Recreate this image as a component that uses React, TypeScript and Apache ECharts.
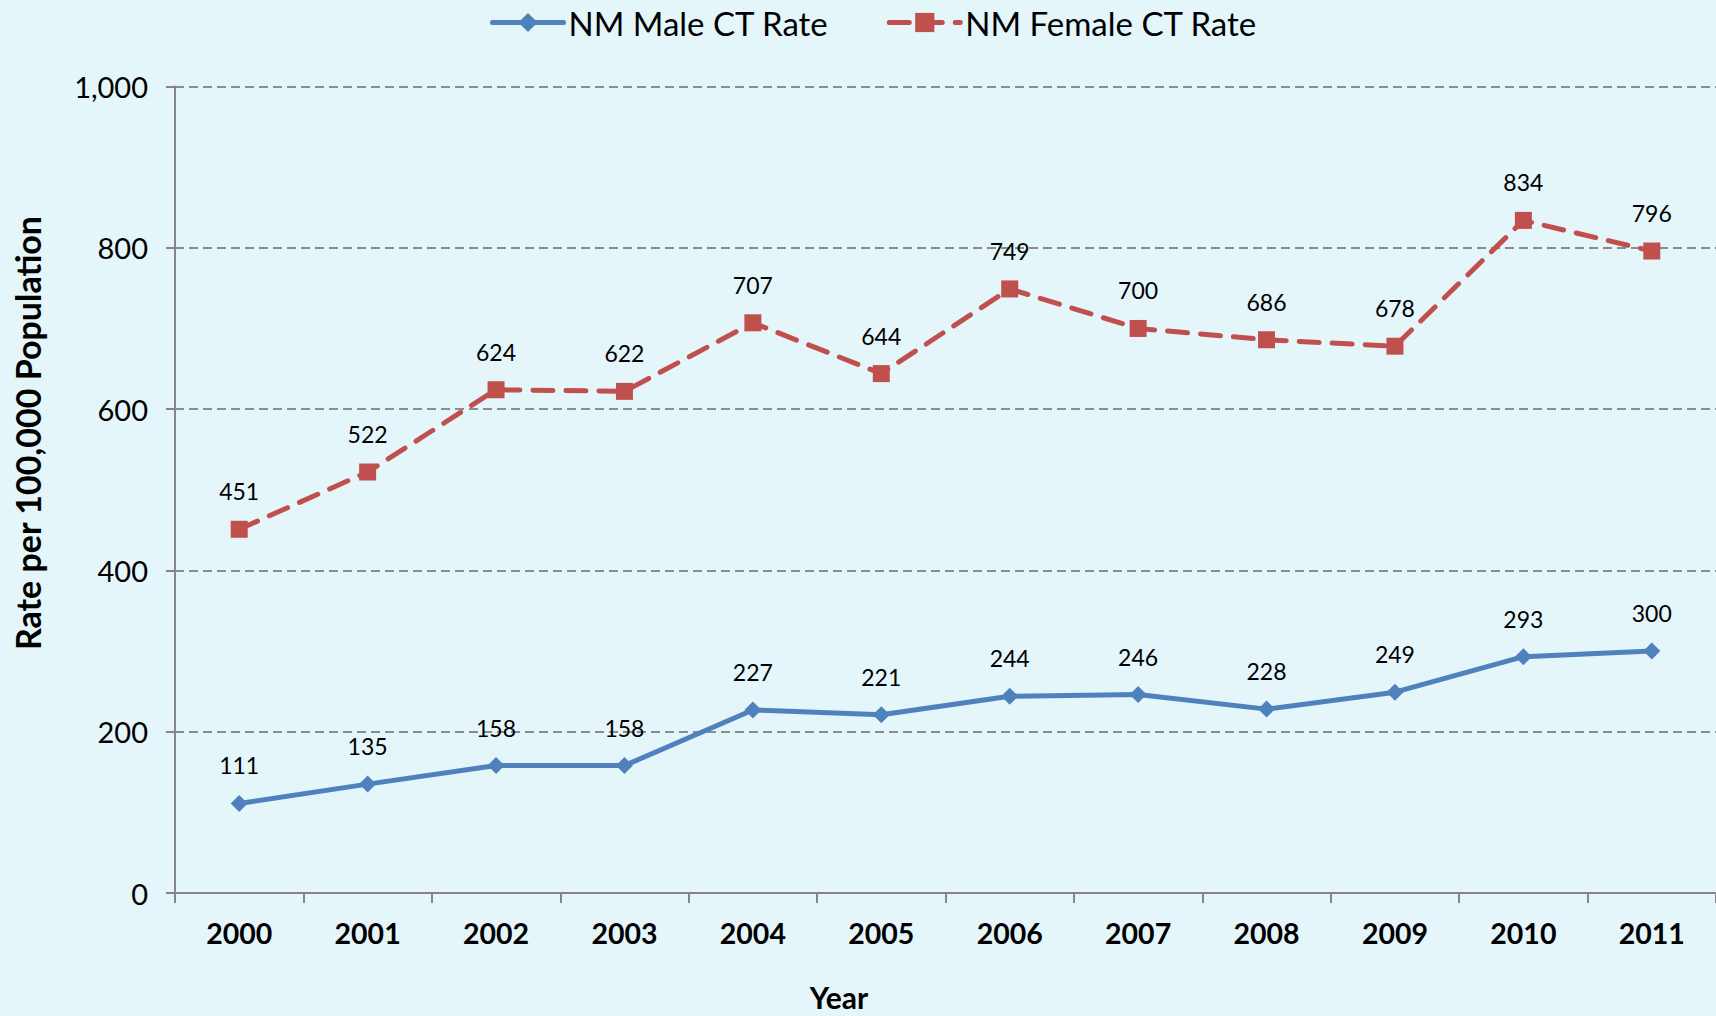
import React, { useEffect, useRef } from "react";
import * as echarts from "echarts";

const years = ["2000", "2001", "2002", "2003", "2004", "2005", "2006", "2007", "2008", "2009", "2010", "2011"];
const maleRate = [111, 135, 158, 158, 227, 221, 244, 246, 228, 249, 293, 300];
const femaleRate = [451, 522, 624, 622, 707, 644, 749, 700, 686, 678, 834, 796];
const yTicks = { min: 0, max: 1000, interval: 200 };

const FONT = "Lato, 'Open Sans', sans-serif";
const MALE = "#4F81BD";
const FEMALE = "#C0504D";

export default function App() {
  const ref = useRef<HTMLDivElement>(null);
  useEffect(() => {
    if (!ref.current) return;
    const chart = echarts.init(ref.current, null, { renderer: "svg" });
    chart.setOption({
      animation: false,
      backgroundColor: "#E4F6FA",
      textStyle: { fontFamily: FONT },
      legend: {
        left: 485,
        top: 1,
        itemWidth: 71,
        itemHeight: 24,
        itemGap: 58,
        textStyle: { fontSize: 33, color: "#000", fontFamily: FONT },
        data: [
          { name: "NM Male CT Rate", lineStyle: { width: 5 } },
          { name: "NM Female CT Rate", lineStyle: { width: 5 } },
        ],
      },
      grid: { left: 175, top: 86.5, right: 0, bottom: 123 },
      xAxis: {
        type: "category",
        data: years,
        boundaryGap: true,
        axisLine: { lineStyle: { color: "#868686", width: 2 } },
        axisTick: { show: true, length: 10, lineStyle: { color: "#868686", width: 2 } },
        axisLabel: { fontSize: 28.5, fontWeight: "bold", color: "#000", margin: 25, fontFamily: FONT },
      },
      yAxis: {
        type: "value",
        min: yTicks.min,
        max: yTicks.max,
        interval: yTicks.interval,
        axisLine: { show: true, lineStyle: { color: "#868686", width: 2 } },
        axisTick: { show: true, length: 9, lineStyle: { color: "#868686", width: 2 } },
        axisLabel: {
          fontSize: 29,
          color: "#000",
          margin: 27,
          fontFamily: FONT,
          formatter: (v: number) => v.toLocaleString("en-US"),
        },
        splitLine: { show: true, lineStyle: { color: "#8C8C8C", width: 2, type: [9, 5] } },
      },
      graphic: [
        {
          type: "text",
          x: 27,
          y: 433,
          rotation: Math.PI / 2,
          style: {
            text: "Rate per 100,000 Population",
            fontSize: 34,
            fontWeight: "bold",
            fontFamily: FONT,
            fill: "#000",
            textAlign: "center",
            textVerticalAlign: "middle",
          },
        },
        {
          type: "text",
          x: 839,
          y: 997,
          style: {
            text: "Year",
            fontSize: 30,
            fontWeight: "bold",
            fontFamily: FONT,
            fill: "#000",
            textAlign: "center",
            textVerticalAlign: "middle",
          },
        },
      ],
      series: [
        {
          name: "NM Male CT Rate",
          type: "line",
          data: maleRate,
          symbol: "diamond",
          symbolSize: 17,
          itemStyle: { color: MALE },
          lineStyle: { color: MALE, width: 5, cap: "round" },
          label: {
            show: true,
            position: "top",
            distance: 18,
            fontSize: 23,
            color: "#000",
            fontFamily: FONT,
          },
        },
        {
          name: "NM Female CT Rate",
          type: "line",
          data: femaleRate,
          symbol: "rect",
          symbolSize: 17,
          itemStyle: { color: FEMALE },
          lineStyle: { color: FEMALE, width: 5, type: [20, 13], cap: "round" },
          label: {
            show: true,
            position: "top",
            distance: 18,
            fontSize: 23,
            color: "#000",
            fontFamily: FONT,
          },
        },
      ],
    });
    return () => chart.dispose();
  }, []);
  return (
    <div
      ref={ref}
      style={{ position: "fixed", left: 0, top: 0, width: 1716, height: 1016 }}
    />
  );
}
